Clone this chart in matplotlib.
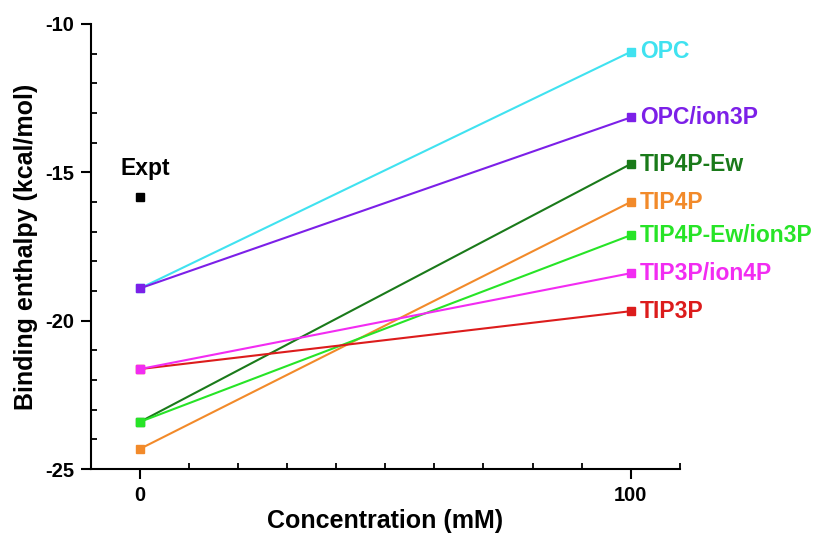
import matplotlib
matplotlib.use("Agg")
import matplotlib.pyplot as plt
from matplotlib.ticker import MultipleLocator

plt.rcParams['font.family'] = ['Liberation Sans', 'DejaVu Sans']
plt.rcParams['font.weight'] = 'bold'
plt.rcParams['axes.unicode_minus'] = False

# concentrations (mM)
conc = [0, 100]

# binding enthalpy (kcal/mol), at 0 and 100 mM
models = ["OPC", "OPC/ion3P", "TIP4P-Ew", "TIP4P", "TIP4P-Ew/ion3P", "TIP3P", "TIP3P/ion4P"]
opc = [-18.91, -10.94]
opc_ion3p = [-18.91, -13.15]
tip4p_ew = [-23.41, -14.72]
tip4p = [-24.32, -16.0]
tip4p_ew_ion3p = [-23.41, -17.12]
tip3p = [-21.63, -19.68]
tip3p_ion4p = [-21.63, -18.4]
values = [opc, opc_ion3p, tip4p_ew, tip4p, tip4p_ew_ion3p, tip3p, tip3p_ion4p]
colors = ["#40e2f0", "#7c20e8", "#1a7a1a", "#f28a2a", "#27e427", "#dc1c1c", "#f22cf2"]

expt_x = 0
expt_y = -15.84

fig = plt.figure(figsize=(8.19, 5.33), dpi=100)
ax = fig.add_axes([0.111, 0.120, 0.719, 0.835])

for name, vals, c in zip(models, values, colors):
    ax.plot(conc, vals, '-', color=c, lw=1.5, marker='s', ms=6.3, mec=c)
    ax.annotate(name, (conc[1], vals[1]), xytext=(6.5, 0), textcoords='offset points',
                color=c, fontsize=16.5, fontweight='bold', va='center', ha='left',
                annotation_clip=False)

ax.plot(expt_x, expt_y, 's', color='black', ms=6.3)
ax.annotate("Expt", (expt_x, expt_y), xytext=(3.6, 16), textcoords='offset points',
            fontsize=16.5, fontweight='bold', ha='center', va='baseline')

ax.set_xlim(-10, 110)
ax.set_ylim(-25, -10)
ax.set_xticks([0, 100])
ax.xaxis.set_minor_locator(MultipleLocator(10))
ax.set_yticks([-25, -20, -15, -10])
ax.yaxis.set_minor_locator(MultipleLocator(1))

for s in ['top', 'right']:
    ax.spines[s].set_visible(False)
for s in ['left', 'bottom']:
    ax.spines[s].set_linewidth(1.5)

ax.tick_params(which='major', length=7, width=1.5, labelsize=14.5, direction='out', pad=5)
ax.tick_params(which='minor', length=4.5, width=1.3, direction='in')
for lbl in ax.get_xticklabels() + ax.get_yticklabels():
    lbl.set_fontweight('bold')

ax.set_xlabel("Concentration (mM)", fontsize=18, fontweight='bold', va='center')
ax.set_ylabel("Binding enthalpy (kcal/mol)", fontsize=18, fontweight='bold', va='center')
ax.xaxis.set_label_coords(0.5, -0.117)
ax.yaxis.set_label_coords(-0.110, 0.5)

fig.savefig("out.png", dpi=100)
